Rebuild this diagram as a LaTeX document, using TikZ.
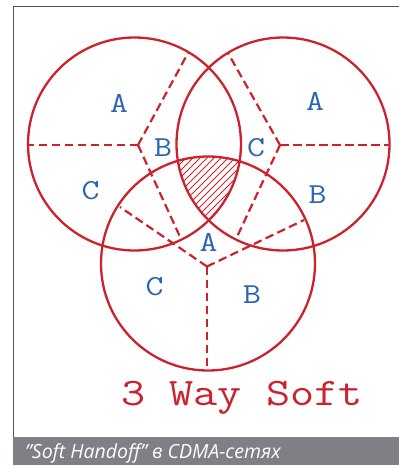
\documentclass[tikz,border=0pt]{standalone}
\usepackage{fontspec}
\setsansfont{Open Sans}
\newfontfamily\courfont[FakeStretch=1.2]{Latin Modern Mono}
\definecolor{cdred}{RGB}{204,34,45}
\definecolor{cellblue}{RGB}{42,100,178}
\definecolor{framegray}{RGB}{85,85,88}
\definecolor{bargray}{RGB}{127,128,133}

\begin{document}
\begin{tikzpicture}[x=1pt, y=-1pt,
  cell/.style={draw=cdred, line width=2.3pt},
  cut/.style={draw=cdred, line width=2.2pt, dash pattern=on 8.5pt off 4.5pt},
  hatch/.style={cdred, line width=0.8pt},
  lbl/.style={text=cellblue, inner sep=0pt,
              font=\fontsize{29}{29}\selectfont\courfont},
  ttl/.style={text=cdred, inner sep=0pt, anchor=base,
              font=\fontsize{39}{39}\selectfont\courfont},
  captxt/.style={text=white, inner sep=0pt, anchor=base west,
              font=\fontsize{19.5}{19.5}\selectfont\sffamily\itshape}
]
  \useasboundingbox (0,0) rectangle (399,466);

  % Frame and caption bar
  \fill[bargray] (13,437) rectangle (399,465);
  \draw[framegray, line width=1.5pt] (13.5,437) |- (399,6.5);
  \node[captxt] (caption) at (25,458.5) {\char34 Soft Handoff\char34{} в CDMA-сетях};

  % Cell centres
  \coordinate (cL) at (134.5,144);
  \coordinate (cR) at (283,144);
  \coordinate (cB) at (208,263.5);

  % Overlap of all three cells
  \begin{scope}
    \clip (cL) circle[radius=106.5pt];
    \clip (cR) circle[radius=106.5pt];
    \clip (cB) circle[radius=107pt];
    \foreach \k in {0,...,22} {
      \draw[hatch] (80+\k*7,250) -- ++(120,-120);
    }
  \end{scope}

  % Sector borders
  \coordinate (vL) at (138,145);
  \coordinate (vR) at (280,145);
  \coordinate (vB) at (207,266.5);
  \foreach \p/\q in {28/145, 188/53, 181/239} {
    \draw[cut] (vL) -- (\p,\q);
  }
  \foreach \p/\q in {389/145, 228/53, 236/239} {
    \draw[cut] (vR) -- (\p,\q);
  }
  \foreach \p/\q in {207/370, 120/207, 304/220} {
    \draw[cut] (vB) -- (\p,\q);
  }

  % Cells
  \draw[cell] (cL) circle[radius=106.5pt];
  \draw[cell] (cR) circle[radius=106.5pt];
  \draw[cell] (cB) circle[radius=107pt];

  % Sector labels
  \foreach \n/\t/\p/\q in {la/A/119/103, lb/B/163/148, lc/C/90.5/191,
                           ra/A/315/101, rc/C/256/148, rb/B/317.5/195,
                           ba/A/208.5/242.5, bc/C/154.5/287, bb/B/252/295} {
    \node[lbl] (\n) at (\p,\q) {\t};
  }

  \node[ttl] (title) at (242,405) {3 Way Soft};
\end{tikzpicture}
\end{document}
